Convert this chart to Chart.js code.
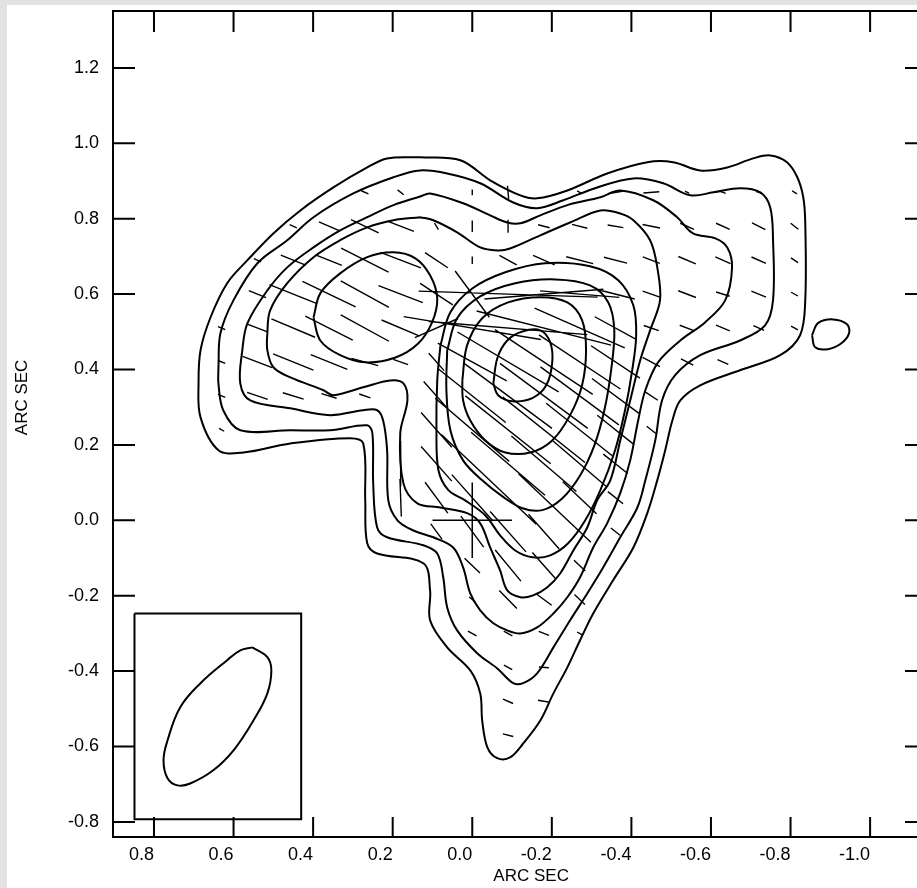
<!DOCTYPE html>
<html>
<head>
<meta charset="utf-8">
<script src="https://cdn.jsdelivr.net/npm/chart.js@4.4.1/dist/chart.umd.min.js"></script>
<style>
  html, body { margin: 0; padding: 0; overflow: hidden; background: #e2e2e2; width: 917px; height: 888px; }
  #paper { position: absolute; left: 7px; top: 5px; width: 910px; height: 883px; background: #fff; }
  #c { position: absolute; left: 0; top: 0; }
</style>
</head>
<body>
<div id="paper"></div>
<canvas id="c" width="960" height="888"></canvas>
<script>
// axis ticks (arcsec)
const xTicks = [0.8, 0.6, 0.4, 0.2, 0.0, -0.2, -0.4, -0.6, -0.8, -1.0];
const yTicks = [1.2, 1.0, 0.8, 0.6, 0.4, 0.2, 0.0, -0.2, -0.4, -0.6, -0.8];

// contours, outermost first: [RA offset, Dec offset] in arcsec
const contour1 = [[0.131,0.963],[0.214,0.960],[0.264,0.936],[0.349,0.883],[0.432,0.822],[0.500,0.761],[0.565,0.690],[0.616,0.629],[0.658,0.538],[0.683,0.451],[0.688,0.363],[0.683,0.273],[0.638,0.186],[0.575,0.180],[0.457,0.204],[0.307,0.218],[0.274,0.204],[0.269,0.053],[0.264,-0.061],[0.239,-0.088],[0.123,-0.114],[0.106,-0.186],[0.106,-0.265],[0.063,-0.337],[0.005,-0.398],[-0.020,-0.459],[-0.025,-0.531],[-0.038,-0.602],[-0.063,-0.631],[-0.095,-0.629],[-0.128,-0.592],[-0.171,-0.531],[-0.204,-0.459],[-0.239,-0.390],[-0.271,-0.318],[-0.304,-0.247],[-0.354,-0.159],[-0.405,-0.072],[-0.440,0.019],[-0.465,0.106],[-0.485,0.186],[-0.503,0.265],[-0.523,0.318],[-0.573,0.358],[-0.673,0.398],[-0.774,0.438],[-0.824,0.491],[-0.837,0.584],[-0.837,0.788],[-0.832,0.857],[-0.817,0.910],[-0.791,0.950],[-0.749,0.968],[-0.706,0.960],[-0.641,0.936],[-0.573,0.928],[-0.505,0.950],[-0.440,0.950],[-0.339,0.920],[-0.239,0.875],[-0.163,0.854],[-0.121,0.862],[-0.045,0.902],[0.030,0.955]];
const contour2 = [[0.638,0.406],[0.633,0.496],[0.600,0.584],[0.540,0.682],[0.465,0.743],[0.399,0.804],[0.299,0.867],[0.198,0.910],[0.131,0.928],[0.063,0.920],[-0.020,0.894],[-0.103,0.843],[-0.163,0.828],[-0.229,0.849],[-0.314,0.883],[-0.405,0.907],[-0.480,0.894],[-0.548,0.862],[-0.606,0.870],[-0.673,0.881],[-0.724,0.870],[-0.749,0.830],[-0.756,0.743],[-0.756,0.584],[-0.736,0.517],[-0.673,0.477],[-0.573,0.438],[-0.510,0.385],[-0.477,0.318],[-0.460,0.212],[-0.435,0.106],[-0.415,0.034],[-0.372,-0.045],[-0.329,-0.125],[-0.289,-0.194],[-0.246,-0.265],[-0.204,-0.337],[-0.163,-0.406],[-0.128,-0.432],[-0.103,-0.432],[-0.063,-0.393],[-0.013,-0.353],[0.038,-0.292],[0.063,-0.231],[0.073,-0.151],[0.088,-0.088],[0.123,-0.066],[0.214,-0.045],[0.239,-0.019],[0.249,0.098],[0.251,0.231],[0.264,0.252],[0.357,0.239],[0.457,0.239],[0.583,0.239],[0.626,0.292],[0.638,0.363]];
const contour3 = [[0.131,0.859],[0.198,0.836],[0.264,0.804],[0.332,0.769],[0.399,0.724],[0.465,0.671],[0.515,0.610],[0.565,0.523],[0.578,0.451],[0.583,0.363],[0.558,0.318],[0.457,0.297],[0.357,0.279],[0.274,0.292],[0.239,0.292],[0.224,0.265],[0.214,0.186],[0.211,0.053],[0.188,0.000],[0.148,-0.027],[0.098,-0.045],[0.048,-0.072],[0.023,-0.125],[0.005,-0.194],[-0.020,-0.239],[-0.053,-0.273],[-0.088,-0.292],[-0.121,-0.300],[-0.163,-0.284],[-0.204,-0.247],[-0.239,-0.204],[-0.271,-0.151],[-0.304,-0.072],[-0.339,-0.008],[-0.372,0.072],[-0.397,0.159],[-0.417,0.265],[-0.435,0.345],[-0.467,0.419],[-0.523,0.477],[-0.585,0.525],[-0.636,0.584],[-0.653,0.671],[-0.641,0.724],[-0.611,0.748],[-0.555,0.761],[-0.515,0.804],[-0.455,0.849],[-0.372,0.875],[-0.322,0.857],[-0.239,0.836],[-0.171,0.809],[-0.121,0.788],[-0.088,0.790],[-0.045,0.809],[0.023,0.841],[0.106,0.867]];
const contour4 = [[0.131,0.804],[0.198,0.796],[0.264,0.777],[0.332,0.743],[0.399,0.698],[0.465,0.629],[0.508,0.557],[0.515,0.496],[0.515,0.451],[0.500,0.406],[0.457,0.379],[0.374,0.345],[0.349,0.332],[0.274,0.353],[0.206,0.371],[0.173,0.363],[0.163,0.318],[0.181,0.231],[0.173,0.098],[0.138,0.045],[0.080,0.034],[0.013,0.019],[-0.020,-0.008],[-0.045,-0.072],[-0.070,-0.133],[-0.088,-0.186],[-0.121,-0.204],[-0.153,-0.199],[-0.188,-0.178],[-0.221,-0.141],[-0.254,-0.080],[-0.289,-0.019],[-0.314,0.053],[-0.347,0.106],[-0.372,0.212],[-0.397,0.318],[-0.422,0.424],[-0.447,0.504],[-0.472,0.584],[-0.465,0.671],[-0.447,0.743],[-0.405,0.796],[-0.372,0.814],[-0.322,0.822],[-0.246,0.790],[-0.171,0.756],[-0.095,0.721],[-0.063,0.716],[-0.020,0.724],[0.038,0.764],[0.098,0.796]];
const contour5a = [[0.399,0.538],[0.382,0.602],[0.332,0.655],[0.264,0.698],[0.198,0.711],[0.143,0.695],[0.106,0.650],[0.088,0.589],[0.101,0.525],[0.136,0.469],[0.193,0.432],[0.269,0.419],[0.332,0.438],[0.382,0.477]];
const contour5b = [[0.080,0.464],[0.055,0.552],[0.000,0.615],[-0.083,0.658],[-0.183,0.682],[-0.296,0.674],[-0.367,0.637],[-0.405,0.570],[-0.412,0.491],[-0.402,0.398],[-0.384,0.292],[-0.359,0.186],[-0.322,0.080],[-0.284,0.000],[-0.241,-0.061],[-0.196,-0.093],[-0.151,-0.098],[-0.108,-0.080],[-0.070,-0.040],[-0.033,0.013],[0.018,0.053],[0.060,0.080],[0.085,0.133],[0.090,0.239],[0.088,0.371]];
const contour6 = [[0.063,0.451],[0.038,0.536],[-0.020,0.594],[-0.108,0.629],[-0.209,0.639],[-0.296,0.623],[-0.342,0.578],[-0.357,0.504],[-0.349,0.398],[-0.332,0.292],[-0.307,0.199],[-0.271,0.119],[-0.226,0.058],[-0.176,0.027],[-0.126,0.032],[-0.075,0.064],[-0.025,0.106],[0.023,0.159],[0.055,0.239],[0.065,0.345]];
const contour7 = [[0.025,0.371],[0.013,0.464],[-0.025,0.536],[-0.090,0.578],[-0.171,0.592],[-0.239,0.578],[-0.276,0.531],[-0.286,0.451],[-0.276,0.358],[-0.246,0.279],[-0.201,0.212],[-0.146,0.180],[-0.083,0.180],[-0.033,0.212],[0.005,0.265],[0.023,0.318]];
const contour8 = [[-0.053,0.363],[-0.063,0.430],[-0.088,0.477],[-0.126,0.501],[-0.171,0.504],[-0.196,0.472],[-0.201,0.419],[-0.186,0.358],[-0.151,0.324],[-0.101,0.316],[-0.065,0.332]];
const island = [[-0.854,0.491],[-0.869,0.523],[-0.907,0.533],[-0.942,0.520],[-0.947,0.496],[-0.927,0.469],[-0.894,0.454],[-0.862,0.459]];

// restoring beam and its box
const beam = [[0.553,-0.337],[0.515,-0.363],[0.505,-0.398],[0.515,-0.459],[0.550,-0.531],[0.600,-0.610],[0.651,-0.663],[0.709,-0.698],[0.741,-0.703],[0.766,-0.684],[0.776,-0.637],[0.766,-0.584],[0.734,-0.496],[0.683,-0.432],[0.616,-0.371],[0.583,-0.345]];
const beamBox = [[0.849,-0.247],[0.430,-0.247],[0.430,-0.793],[0.849,-0.793]];

// reference position marker: [x, y, half size]
const core = [0, 0, 0.1];

// polarization vectors: [x, y, length, position angle in deg E of N]
const vectors = [
  [0.27,0.87,0.02,65],[0.18,0.87,0.02,50],[0.0,0.87,0.015,0],[-0.09,0.87,0.035,5],[-0.27,0.87,0.015,60],[-0.36,0.87,0.035,100],[-0.45,0.87,0.04,95],[-0.54,0.87,0.012,60],[-0.63,0.87,0.015,70],[-0.72,0.87,0.015,70],[-0.81,0.87,0.015,55],
  [0.45,0.78,0.02,65],[0.36,0.78,0.056,65],[0.27,0.78,0.078,63],[0.18,0.78,0.072,68],[0.09,0.78,0.02,30],[0.0,0.78,0.03,0],[-0.09,0.78,0.035,0],[-0.18,0.78,0.03,75],[-0.27,0.78,0.04,75],[-0.36,0.78,0.04,80],[-0.45,0.78,0.045,78],[-0.54,0.78,0.038,65],[-0.63,0.78,0.038,65],[-0.72,0.78,0.038,62],[-0.81,0.78,0.025,50],
  [0.54,0.69,0.02,65],[0.45,0.69,0.068,67],[0.36,0.69,0.07,67],[0.27,0.69,0.135,62],[0.18,0.69,0.11,68],[0.09,0.69,0.07,55],[0.0,0.69,0.02,0],[-0.09,0.69,0.05,60],[-0.18,0.69,0.06,65],[-0.27,0.69,0.07,75],[-0.36,0.69,0.06,75],[-0.45,0.69,0.046,68],[-0.54,0.69,0.048,66],[-0.63,0.69,0.042,65],[-0.72,0.69,0.04,65],[-0.81,0.69,0.022,55],
  [0.54,0.60,0.047,67],[0.45,0.60,0.13,67],[0.36,0.60,0.15,63],[0.27,0.60,0.14,60],[0.18,0.60,0.12,68],[0.09,0.60,0.1,55],[0.0,0.60,0.15,35],[-0.09,0.60,0.45,88],[-0.18,0.60,0.3,95],[-0.27,0.60,0.2,85],[-0.36,0.60,0.1,75],[-0.45,0.60,0.046,70],[-0.54,0.60,0.048,68],[-0.63,0.60,0.036,72],[-0.72,0.60,0.04,67],[-0.81,0.60,0.02,60],
  [0.63,0.51,0.02,67],[0.54,0.51,0.055,68],[0.45,0.51,0.12,66],[0.36,0.51,0.135,62],[0.27,0.51,0.14,60],[0.18,0.51,0.105,66],[0.09,0.51,0.12,115],[0.0,0.51,0.35,80],[-0.09,0.51,0.4,85],[-0.18,0.51,0.35,75],[-0.27,0.51,0.25,65],[-0.36,0.51,0.12,60],[-0.45,0.51,0.04,70],[-0.54,0.51,0.04,68],[-0.63,0.51,0.038,66],[-0.72,0.51,0.03,65],[-0.81,0.51,0.02,60],
  [0.63,0.42,0.02,67],[0.54,0.42,0.08,68],[0.45,0.42,0.11,67],[0.36,0.42,0.1,67],[0.27,0.42,0.07,74],[0.18,0.42,0.04,70],[0.09,0.42,0.06,40],[0.0,0.42,0.2,60],[-0.09,0.42,0.3,58],[-0.18,0.42,0.3,55],[-0.27,0.42,0.25,55],[-0.36,0.42,0.15,55],[-0.45,0.42,0.05,60],[-0.54,0.42,0.035,62],[-0.63,0.42,0.03,65],
  [0.63,0.33,0.02,67],[0.54,0.33,0.055,70],[0.45,0.33,0.055,72],[0.36,0.33,0.04,72],[0.27,0.33,0.03,70],[0.09,0.33,0.1,40],[0.0,0.33,0.22,50],[-0.09,0.33,0.28,52],[-0.18,0.33,0.28,52],[-0.27,0.33,0.25,52],[-0.36,0.33,0.15,52],[-0.45,0.33,0.04,55],
  [0.63,0.24,0.015,60],[0.09,0.24,0.12,40],[0.0,0.24,0.25,48],[-0.09,0.24,0.28,50],[-0.18,0.24,0.27,50],[-0.27,0.24,0.22,50],[-0.36,0.24,0.12,50],[-0.45,0.24,0.03,50],
  [0.18,0.15,0.12,0],[0.09,0.15,0.12,40],[0.0,0.15,0.22,45],[-0.09,0.15,0.25,48],[-0.18,0.15,0.22,48],[-0.27,0.15,0.18,48],[-0.36,0.15,0.08,50],
  [0.18,0.06,0.1,2],[0.09,0.06,0.1,35],[0.0,0.06,0.16,40],[-0.09,0.06,0.2,45],[-0.18,0.06,0.18,45],[-0.27,0.06,0.12,45],[-0.36,0.06,0.05,50],
  [0.09,-0.03,0.05,35],[0.0,-0.03,0.1,35],[-0.09,-0.03,0.14,40],[-0.18,-0.03,0.12,40],[-0.27,-0.03,0.08,45],[-0.36,-0.03,0.03,50],
  [0.0,-0.12,0.055,45],[-0.09,-0.12,0.105,38],[-0.18,-0.12,0.09,40],[-0.27,-0.12,0.04,45],
  [0.0,-0.21,0.02,50],[-0.09,-0.21,0.065,43],[-0.18,-0.21,0.05,52],[-0.27,-0.21,0.037,45],
  [0.0,-0.30,0.025,60],[-0.09,-0.30,0.025,60],[-0.18,-0.30,0.028,68],[-0.27,-0.30,0.015,60],
  [-0.09,-0.39,0.024,60],[-0.18,-0.39,0.025,85],
  [-0.09,-0.48,0.028,65],[-0.18,-0.48,0.03,80],
  [-0.09,-0.57,0.027,75]
];

const ink = '#000';
const labelColor = '#000';
const labelFont = { family: '"Liberation Sans", Arial, sans-serif', size: 18 };

const toPts = (arr, close) => {
  const p = arr.map(([x, y]) => ({ x, y }));
  if (close) p.push({ x: arr[0][0], y: arr[0][1] });
  return p;
};

const lineSet = (arr, opts) => Object.assign({
  data: toPts(arr, true),
  showLine: true,
  borderColor: ink,
  borderWidth: 2,
  pointRadius: 0,
  pointHoverRadius: 0,
  tension: 0.35,
  fill: false
}, opts || {});

const gap = { x: null, y: null };
const vecPts = [];
vectors.forEach(([x, y, len, pa]) => {
  const a = pa * Math.PI / 180, h = len / 2;
  const dx = h * Math.sin(a), dy = h * Math.cos(a);
  vecPts.push({ x: x + dx, y: y + dy }, { x: x - dx, y: y - dy }, gap);
});

const [cx, cy, cs] = core;
const corePts = [{ x: cx + cs, y: cy }, { x: cx - cs, y: cy }, gap, { x: cx, y: cy + cs }, { x: cx, y: cy - cs }];

const datasets = [contour1, contour2, contour3, contour4, contour5a, contour5b, contour6, contour7, contour8, island]
  .map(c => lineSet(c));
datasets.push({ data: vecPts, showLine: true, borderColor: ink, borderWidth: 1.4, pointRadius: 0, pointHoverRadius: 0, tension: 0, spanGaps: false });
datasets.push(lineSet(beam, { tension: 0.4 }));
datasets.push(lineSet(beamBox, { tension: 0 }));
datasets.push({ data: corePts, showLine: true, borderColor: ink, borderWidth: 1.5, pointRadius: 0, pointHoverRadius: 0, tension: 0, spanGaps: false });

// frame with inward ticks on all four sides, plus axis titles
const framePlugin = {
  id: 'frame',
  afterDatasetsDraw(chart) {
    const { ctx, chartArea: a, scales: { x, y } } = chart;
    ctx.save();
    ctx.strokeStyle = ink;
    ctx.lineWidth = 2;
    ctx.strokeRect(a.left, a.top, a.right - a.left, a.bottom - a.top);
    ctx.beginPath();
    xTicks.forEach(v => {
      const p = x.getPixelForValue(v);
      ctx.moveTo(p, a.bottom); ctx.lineTo(p, a.bottom - 20);
      ctx.moveTo(p, a.top); ctx.lineTo(p, a.top + 21);
    });
    yTicks.forEach(v => {
      const p = y.getPixelForValue(v);
      ctx.moveTo(a.left, p); ctx.lineTo(a.left + 22, p);
      ctx.moveTo(a.right, p); ctx.lineTo(a.right - 22, p);
    });
    ctx.stroke();

    ctx.fillStyle = labelColor;
    ctx.font = '17px "Liberation Sans", Arial, sans-serif';
    ctx.textAlign = 'center';
    ctx.textBaseline = 'middle';
    ctx.fillText('ARC SEC', x.getPixelForValue(-0.148), 876);
    ctx.translate(22, y.getPixelForValue(0.326));
    ctx.rotate(-Math.PI / 2);
    ctx.fillText('ARC SEC', 0, 0);
    ctx.restore();
  }
};

const ascending = arr => [...arr].sort((a, b) => a - b).map(v => ({ value: v }));
const noPadding = s => { s.paddingLeft = 0; s.paddingRight = 0; s.paddingTop = 0; s.paddingBottom = 0; };

new Chart(document.getElementById('c'), {
  type: 'scatter',
  data: { datasets },
  options: {
    responsive: false,
    animation: false,
    events: [],
    layout: { padding: { top: 11, right: 33, left: 0, bottom: 0 } },
    plugins: { legend: { display: false }, tooltip: { enabled: false } },
    scales: {
      x: {
        type: 'linear',
        reverse: true,
        min: -1.143,
        max: 0.903,
        afterBuildTicks: s => { s.ticks = ascending(xTicks); },
        afterFit: s => { s.height = 51; noPadding(s); },
        grid: { display: false, drawTicks: false },
        border: { display: false },
        ticks: { align: 'end', padding: 7, color: labelColor, font: labelFont, maxRotation: 0, callback: v => v.toFixed(1) }
      },
      y: {
        type: 'linear',
        min: -0.840,
        max: 1.351,
        afterBuildTicks: s => { s.ticks = ascending(yTicks); },
        afterFit: s => { s.width = 113; noPadding(s); },
        grid: { display: false, drawTicks: false },
        border: { display: false },
        ticks: { padding: 14, color: labelColor, font: labelFont, callback: v => v.toFixed(1) }
      }
    }
  },
  plugins: [framePlugin]
});
</script>
</body>
</html>
